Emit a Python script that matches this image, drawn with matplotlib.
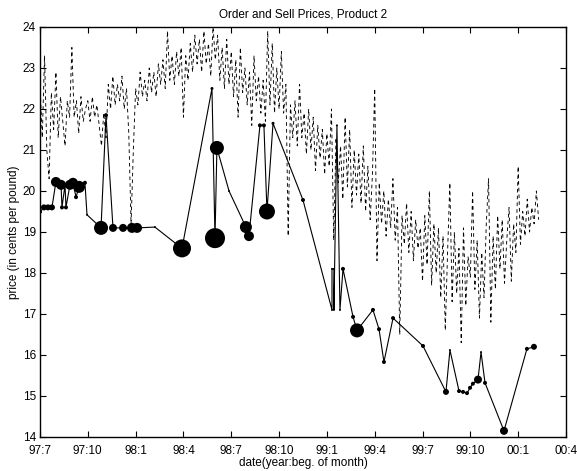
import numpy as np
import matplotlib
matplotlib.use("Agg")
from matplotlib import pyplot as plt

plt.rcParams['font.family'] = ['Liberation Sans', 'DejaVu Sans']

# sell prices, ~7 samples per month starting 97:7
sell_price = [
    22.6, 21.3, 23.3, 21.0, 20.3, 22.4, 21.5,
    22.9, 21.3, 22.3, 21.7, 21.1, 22.2, 21.8,
    23.5, 21.8, 22.2, 21.4, 22.3, 21.7, 22.0,
    22.2, 21.7, 22.3, 21.8, 22.1, 21.6, 21.1,
    21.9, 21.3, 22.6, 22.0, 22.8, 22.1, 22.6,
    22.2, 22.8, 22.0, 22.5, 21.4, 19.2, 21.0,
    22.5, 22.1, 22.9, 22.3, 22.7, 22.2, 23.0,
    22.4, 22.9, 22.3, 23.1, 22.6, 23.2, 22.5,
    23.9, 22.7, 23.3, 22.6, 23.4, 22.8, 23.5,
    21.8, 23.3, 22.7, 23.6, 22.9, 23.8, 23.1,
    23.7, 22.9, 23.9, 23.1, 23.6, 22.8, 24.0,
    23.2, 23.8, 22.7, 23.5, 22.5, 23.7, 22.6,
    23.4, 22.3, 23.2, 21.8, 23.5, 22.4, 23.0,
    22.1, 22.9, 21.6, 23.3, 22.2, 22.8, 21.9,
    22.7, 21.7, 23.9, 22.1, 23.6, 21.9, 23.0,
    22.0, 23.4, 21.9, 22.6, 18.9, 22.1, 21.3,
    22.2, 21.1, 22.6, 21.3, 21.9, 20.9, 22.0,
    21.0, 21.8, 20.5, 21.6, 20.8, 21.5, 20.4,
    21.4, 20.6, 22.0, 18.8, 21.3, 20.2, 21.1,
    19.8, 21.8, 20.1, 21.5, 19.6, 21.0, 19.9,
    20.9, 19.7, 21.1, 19.5, 20.6, 19.3, 20.4,
    22.5, 18.3, 20.2, 19.2, 20.0, 18.9, 19.8,
    19.1, 20.3, 18.8, 19.6, 16.5, 19.4, 18.7,
    19.7, 18.5, 19.5, 18.3, 19.3, 18.6, 19.1,
    17.8, 19.4, 18.2, 20.0, 17.7, 19.2, 18.0,
    19.1, 17.4, 18.9, 16.6, 18.5, 20.2, 17.3,
    19.0, 17.5, 18.6, 16.3, 19.1, 17.2, 18.4,
    17.9, 20.0, 17.6, 18.8, 16.9, 18.5, 17.4,
    19.2, 20.3, 16.8, 18.9, 17.6, 19.4, 18.1,
    19.3, 17.75, 18.8, 19.6, 17.8, 19.2, 18.5,
    20.6, 18.7, 19.5, 18.9, 19.8, 19.0, 19.6,
    19.2, 20.0, 19.3,
]

# orders: months since 97:7, price, relative order quantity
order_month = [
    0.00, 0.25, 0.50, 0.75, 1.00, 1.32, 1.38, 1.57, 1.63, 1.88,
    2.07, 2.26, 2.45, 2.82, 2.95, 3.83, 4.14, 4.58, 5.21, 5.77,
    6.09, 7.21, 8.91, 10.79, 10.98, 11.10, 11.86, 12.92, 13.11, 13.80,
    14.05, 14.24, 14.62, 16.50, 18.32, 18.32, 18.44, 18.44, 18.63, 18.82,
    19.01, 19.64, 19.89, 20.89, 21.27, 21.58, 22.15, 24.03, 25.47, 25.72,
    26.29, 26.54, 26.79, 26.98, 27.16, 27.48, 27.67, 27.92, 29.11, 30.55,
    30.99,
]
order_price = [
    19.49, 19.6, 19.6, 19.6, 20.22, 20.15, 19.6, 20.15, 19.6, 20.15,
    20.2, 19.85, 20.1, 20.2, 19.42, 19.1, 21.85, 19.1, 19.1, 19.1,
    19.1, 19.12, 18.6, 22.5, 18.85, 21.05, 20.0, 19.12, 18.9, 21.6,
    21.6, 19.5, 21.65, 19.78, 17.1, 18.1, 18.1, 17.1, 21.6, 17.1,
    18.1, 16.93, 16.6, 17.1, 16.63, 15.83, 16.9, 16.22, 15.1, 16.12,
    15.12, 15.1, 15.07, 15.2, 15.3, 15.4, 16.07, 15.32, 14.15, 16.15,
    16.2,
]
order_qty = [
    2, 3, 3, 3, 5, 5, 2, 2, 2, 5,
    5, 2, 6, 2, 1, 7, 2, 4, 4, 5,
    5, 1, 9, 1.5, 10, 7, 1, 6, 5, 2,
    2, 8, 1.5, 2, 1, 1, 1, 1, 1, 1,
    2, 2, 7, 2, 2, 2, 2, 2, 3, 1,
    2, 2, 2, 2, 2, 4, 1, 2, 4, 2,
    3,
]

tick_labels = ['97:7', '97:10', '98:1', '98:4', '98:7', '98:10',
               '99:1', '99:4', '99:7', '99:10', '00:1', '00:4']

fig = plt.figure(figsize=(5.77, 4.71), dpi=100)
ax = fig.add_axes([0.0693, 0.0722, 0.9116, 0.8705])

sell_month = np.arange(len(sell_price)) / 7.0
ax.plot(sell_month, sell_price, color='k', lw=0.65, ls=(0, (4, 3.5)))

ax.plot(order_month, order_price, color='k', lw=0.8)
# marker diameter ~ 2*qty px -> points
diam = 2 * np.array(order_qty) * 0.72
ax.scatter(order_month, order_price, s=diam**2, color='k', zorder=3,
           linewidths=0)

ax.set_xlim(0, 33)
ax.set_ylim(14, 24)
ax.set_xticks(np.arange(0, 34, 3))
ax.set_xticklabels(tick_labels)
ax.set_yticks(np.arange(14, 25, 1))
ax.tick_params(direction='in', top=True, right=True, length=4, width=0.8,
               labelsize=8.5)
ax.tick_params(axis='x', pad=5.5)
ax.tick_params(axis='y', pad=3)
for s in ax.spines.values():
    s.set_linewidth(1.0)

ax.set_title('Order and Sell Prices, Product 2', fontsize=8.5, pad=7)
ax.set_xlabel('date(year:beg. of month)', fontsize=8.5, labelpad=0)
ax.set_ylabel('price (in cents per pound)', fontsize=8.5, labelpad=2)

fig.savefig('out.png', dpi=100)
